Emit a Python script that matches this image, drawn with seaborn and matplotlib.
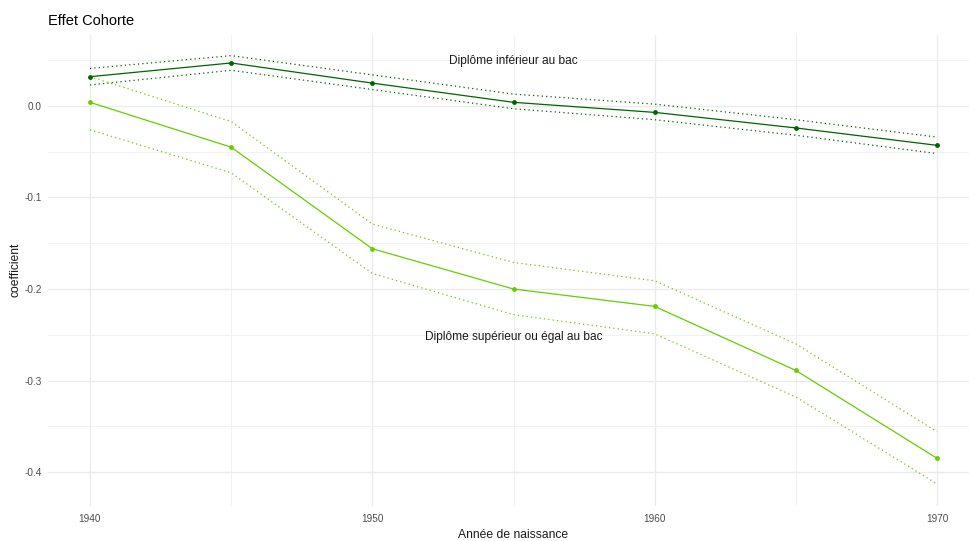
import matplotlib
matplotlib.use("Agg")
import matplotlib.pyplot as plt
from matplotlib.ticker import MultipleLocator
import seaborn as sns
import pandas as pd

# Birth cohorts
years = [1940, 1945, 1950, 1955, 1960, 1965, 1970]

# Below baccalaureate: estimate and confidence bounds
low_coef = [0.032, 0.047, 0.025, 0.004, -0.007, -0.024, -0.043]
low_upper = [0.041, 0.055, 0.034, 0.013, 0.002, -0.015, -0.034]
low_lower = [0.023, 0.039, 0.018, -0.003, -0.015, -0.032, -0.052]

# Baccalaureate or above: estimate and confidence bounds
high_coef = [0.004, -0.045, -0.156, -0.200, -0.219, -0.289, -0.385]
high_upper = [0.032, -0.017, -0.129, -0.171, -0.191, -0.260, -0.356]
high_lower = [-0.026, -0.073, -0.183, -0.228, -0.249, -0.318, -0.413]

label_low = "Diplôme inférieur au bac"
label_high = "Diplôme supérieur ou égal au bac"

dark = "#006400"
light = "#66CD00"

sns.set_theme(style="whitegrid")
plt.rcParams["font.family"] = ["Liberation Sans", "DejaVu Sans"]

W, H = 970, 541
fig = plt.figure(figsize=(W / 100, H / 100), dpi=100)
# panel in pixels: left 47.6, right 979.4 (runs past the right edge), top 34.6, bottom 505.9
left, right, top, bottom = 47.6, 979.4, 34.6, 505.9
ax = fig.add_axes([left / W, 1 - bottom / H, (right - left) / W, (bottom - top) / H])

main = pd.DataFrame({"year": years * 2,
                     "coef": low_coef + high_coef,
                     "group": [label_low] * 7 + [label_high] * 7})
bounds = pd.DataFrame({"year": years * 4,
                       "value": low_upper + low_lower + high_upper + high_lower,
                       "band": ["lu"] * 7 + ["ll"] * 7 + ["hu"] * 7 + ["hl"] * 7})
palette_main = {label_low: dark, label_high: light}
palette_bounds = {"lu": dark, "ll": dark, "hu": light, "hl": light}

sns.lineplot(data=bounds, x="year", y="value", hue="band", palette=palette_bounds,
             linestyle=(0, (1, 2.5)), linewidth=0.9, legend=False, ax=ax, zorder=2)
sns.lineplot(data=main, x="year", y="coef", hue="group", palette=palette_main,
             marker="o", markersize=3.5, markeredgewidth=0, linewidth=0.9,
             legend=False, ax=ax, zorder=3)

ax.text(1955, 0.049, label_low, ha="center", va="center", fontsize=8.6, color="#1a1a1a")
ax.text(1955, -0.252, label_high, ha="center", va="center", fontsize=8.6, color="#1a1a1a")

ax.set_xlim(1938.5, 1971.5)
ax.set_ylim(-0.437, 0.078)
ax.xaxis.set_minor_locator(MultipleLocator(5))
ax.yaxis.set_minor_locator(MultipleLocator(0.05))
ax.set_xticks([1940, 1950, 1960, 1970])
ax.set_xticklabels(["1940", "1950", "1960", "1970"])
ax.set_yticks([0.0, -0.1, -0.2, -0.3, -0.4])
ax.set_yticklabels(["0.0", "-0.1", "-0.2", "-0.3", "-0.4"])

ax.grid(which="major", color="#ebebeb", linewidth=1.0)
ax.grid(which="minor", color="#f1f1f1", linewidth=0.7)
ax.set_facecolor("white")
for s in ax.spines.values():
    s.set_visible(False)
ax.tick_params(axis="both", which="both", length=0, labelsize=7.2, labelcolor="#4d4d4d")
ax.tick_params(axis="y", pad=4)
ax.tick_params(axis="x", pad=5.5)

ax.set_xlabel("Année de naissance", fontsize=8.7, color="#1a1a1a")
ax.set_ylabel("coefficient", fontsize=8.7, color="#1a1a1a")
pw, ph = right - left, bottom - top
ax.xaxis.set_label_coords((513.5 - left) / pw, -(529 - bottom) / ph)
ax.xaxis.label.set_va("top")
ax.yaxis.set_label_coords((22 - left) / pw, 0.5)

fig.text(48 / W, 1 - 21 / H, "Effet Cohorte", fontsize=10.5, color="black",
         ha="left", va="center")

fig.savefig("out.png", dpi=100, facecolor="white")
